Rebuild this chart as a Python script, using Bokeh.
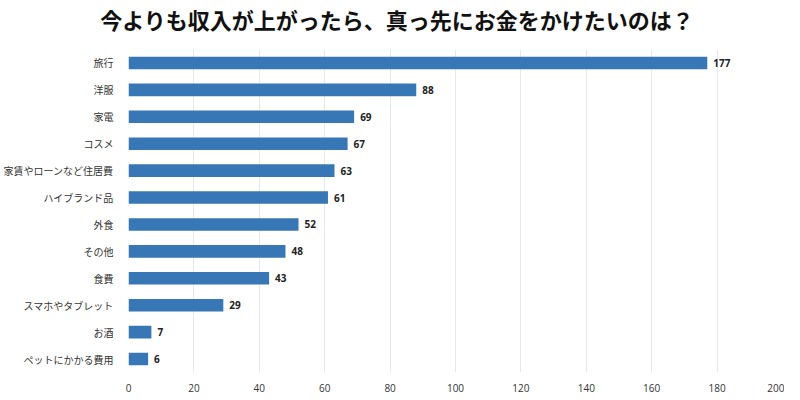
from bokeh.plotting import figure
from bokeh.models import Range1d, FixedTicker, Div, ColumnDataSource
from bokeh.layouts import column
from bokeh.core.properties import value
from bokeh.embed import file_html
from bokeh.resources import INLINE

title_text = "今よりも収入が上がったら、真っ先にお金をかけたいのは？"
categories = ["旅行", "洋服", "家電", "コスメ", "家賃やローンなど住居費", "ハイブランド品",
              "外食", "その他", "食費", "スマホやタブレット", "お酒", "ペットにかかる費用"]
values = [177, 88, 69, 67, 63, 61, 52, 48, 43, 29, 7, 6]
x_ticks = [0, 20, 40, 60, 80, 100, 120, 140, 160, 180, 200]

src = ColumnDataSource(dict(cat=categories, val=values, lab=[str(v) for v in values]))

div = Div(text=title_text, width=784, height=27,
          styles={"font-size": "22px", "font-weight": "bold", "text-align": "center",
                  "width": "784px", "line-height": "28px", "color": "#111",
                  "font-family": "'Noto Sans CJK JP', sans-serif"})

p = figure(width=784, height=357, y_range=list(reversed(categories)),
           x_range=Range1d(0, 200), output_backend="svg", toolbar_location=None,
           min_border_left=121, min_border_right=2, min_border_top=12, min_border_bottom=17)
p.outline_line_color = None
p.background_fill_color = "white"

p.hbar(y="cat", right="val", height=0.47, source=src, color="#3877b6", line_color=None)
p.text(x="val", y="cat", text="lab", source=src, x_offset=6, text_baseline="middle",
       text_font=value("Open Sans"), text_font_style="bold", text_font_size="10px",
       text_color="#222")

p.xaxis.ticker = FixedTicker(ticks=x_ticks)
p.xaxis.axis_line_color = None
p.xaxis.major_tick_line_color = None
p.xaxis.minor_tick_line_color = None
p.xaxis.major_label_text_font = "Open Sans"
p.xaxis.major_label_text_font_size = "10px"
p.xaxis.major_label_text_color = "#333"
p.xaxis.major_label_standoff = 5

p.yaxis.axis_line_color = None
p.yaxis.major_tick_line_color = None
p.yaxis.minor_tick_line_color = None
p.yaxis.major_label_text_font = "Noto Sans CJK JP"
p.yaxis.major_label_text_font_size = "10px"
p.yaxis.major_label_text_color = "#333"
p.yaxis.major_label_standoff = 9

p.xgrid.grid_line_color = "#e8e8e8"
p.ygrid.grid_line_color = None

layout = column(div, p, spacing=0)
open("out.html", "w").write(file_html(layout, INLINE))
